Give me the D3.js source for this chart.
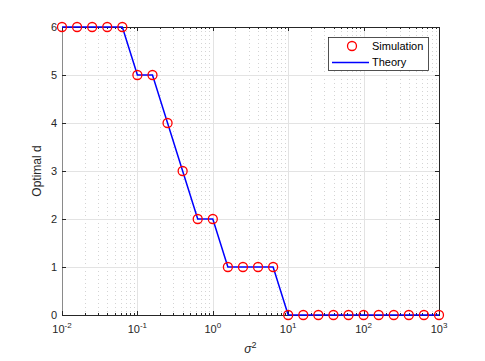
<!DOCTYPE html>
<html>
<head>
<meta charset="utf-8">
<script src="https://cdn.jsdelivr.net/npm/d3@7"></script>
<style>
body { margin: 0; background: #fff; }
text { font-family: "Liberation Sans", Arial, sans-serif; }
</style>
</head>
<body>
<svg id="chart" width="485" height="361"></svg>
<script>
// sigma^2 exponents (log10), step 0.2 decades
var exponents = [-2, -1.8, -1.6, -1.4, -1.2, -1, -0.8, -0.6, -0.4, -0.2, 0, 0.2, 0.4, 0.6, 0.8,
                 1, 1.2, 1.4, 1.6, 1.8, 2, 2.2, 2.4, 2.6, 2.8, 3];
var simulation = [6, 6, 6, 6, 6, 5, 5, 4, 3, 2, 2, 1, 1, 1, 1, 0, 0, 0, 0, 0, 0, 0, 0, 0, 0, 0];
var theory     = [6, 6, 6, 6, 6, 5, 5, 4, 3, 2, 2, 1, 1, 1, 1, 0, 0, 0, 0, 0, 0, 0, 0, 0, 0, 0];
var xTicks = [-2, -1, 0, 1, 2, 3];
var yTicks = [0, 1, 2, 3, 4, 5, 6];

var svg = d3.select("#chart");
var pLeft = 62, pRight = 439, pTop = 27, pBottom = 315;

var x = d3.scaleLog().domain([1e-2, 1e3]).range([pLeft, pRight]);
var y = d3.scaleLinear().domain([0, 6]).range([pBottom, pTop]);

var g = svg.append("g");

// minor grid (dotted)
var minor = [];
for (var e = -2; e < 3; e++) {
  for (var m = 2; m <= 9; m++) minor.push(m * Math.pow(10, e));
}
g.selectAll(".minor").data(minor).enter().append("line")
  .attr("x1", function(d){ return Math.round(x(d)) + 0.5; })
  .attr("x2", function(d){ return Math.round(x(d)) + 0.5; })
  .attr("y1", pTop).attr("y2", pBottom)
  .attr("stroke", "#d4d4d4").attr("stroke-width", 1)
  .attr("stroke-dasharray", "1,3");

// major grid
g.selectAll(".gx").data(xTicks).enter().append("line")
  .attr("x1", function(d){ return Math.round(x(Math.pow(10, d))) + 0.5; })
  .attr("x2", function(d){ return Math.round(x(Math.pow(10, d))) + 0.5; })
  .attr("y1", pTop).attr("y2", pBottom)
  .attr("stroke", "#e3e3e3");
g.selectAll(".gy").data(yTicks).enter().append("line")
  .attr("x1", pLeft).attr("x2", pRight)
  .attr("y1", function(d){ return Math.round(y(d)) + 0.5; })
  .attr("y2", function(d){ return Math.round(y(d)) + 0.5; })
  .attr("stroke", "#e3e3e3");

// axes box
g.append("rect").attr("x", pLeft + 0.5).attr("y", pTop + 0.5)
  .attr("width", pRight - pLeft).attr("height", pBottom - pTop)
  .attr("fill", "none").attr("stroke", "#262626").attr("stroke-width", 1);
g.append("line").attr("x1", pLeft + 0.5).attr("x2", pLeft + 0.5)
  .attr("y1", pTop).attr("y2", pBottom).attr("stroke", "#8a8a8a");

// ticks (inward)
g.selectAll(".ty").data(yTicks).enter().append("line")
  .attr("x1", pLeft).attr("x2", pLeft + 4)
  .attr("y1", function(d){ return Math.round(y(d)) + 0.5; })
  .attr("y2", function(d){ return Math.round(y(d)) + 0.5; })
  .attr("stroke", "#262626");
g.selectAll(".ty2").data(yTicks).enter().append("line")
  .attr("x1", pRight - 4).attr("x2", pRight)
  .attr("y1", function(d){ return Math.round(y(d)) + 0.5; })
  .attr("y2", function(d){ return Math.round(y(d)) + 0.5; })
  .attr("stroke", "#262626");
var allX = minor.concat(xTicks.map(function(d){ return Math.pow(10, d); }));
g.selectAll(".tx").data(allX).enter().append("line")
  .attr("x1", function(d){ return Math.round(x(d)) + 0.5; })
  .attr("x2", function(d){ return Math.round(x(d)) + 0.5; })
  .attr("y1", pBottom).attr("y2", function(d){ return pBottom - (minor.indexOf(d) >= 0 ? 2 : 4); })
  .attr("stroke", "#262626");
g.selectAll(".tx2").data(allX).enter().append("line")
  .attr("x1", function(d){ return Math.round(x(d)) + 0.5; })
  .attr("x2", function(d){ return Math.round(x(d)) + 0.5; })
  .attr("y1", pTop).attr("y2", function(d){ return pTop + (minor.indexOf(d) >= 0 ? 2 : 4); })
  .attr("stroke", "#262626");

// tick labels
g.selectAll(".ly").data(yTicks).enter().append("text")
  .attr("x", pLeft - 5).attr("y", function(d){ return y(d) + 4; })
  .attr("text-anchor", "end").attr("font-size", 11).attr("fill", "#262626")
  .text(function(d){ return d; });
var lx = g.selectAll(".lx").data(xTicks).enter().append("text")
  .attr("x", function(d){ return x(Math.pow(10, d)); }).attr("y", pBottom + 18)
  .attr("text-anchor", "middle").attr("font-size", 11).attr("fill", "#262626");
lx.append("tspan").text("10");
lx.append("tspan").attr("dy", -5).attr("font-size", 8).text(function(d){ return d; });

// axis labels
var xl = g.append("text").attr("x", (pLeft + pRight) / 2).attr("y", 353)
  .attr("text-anchor", "middle").attr("font-size", 12).attr("fill", "#262626");
xl.append("tspan").attr("font-style", "italic").text("σ");
xl.append("tspan").attr("dy", -5).attr("font-size", 9).text("2");
g.append("text").attr("transform", "translate(41," + (pTop + pBottom) / 2 + ") rotate(-90)")
  .attr("text-anchor", "middle").attr("font-size", 12).attr("fill", "#262626")
  .text("Optimal d");

// theory line
var line = d3.line()
  .x(function(d, i){ return x(Math.pow(10, exponents[i])); })
  .y(function(d){ return y(d); });
g.append("path").datum(theory).attr("d", line)
  .attr("fill", "none").attr("stroke", "#0000ff").attr("stroke-width", 1.5);

// simulation markers
g.selectAll(".sim").data(simulation).enter().append("circle")
  .attr("cx", function(d, i){ return x(Math.pow(10, exponents[i])); })
  .attr("cy", function(d){ return y(d); })
  .attr("r", 4.5).attr("fill", "none").attr("stroke", "#ff0000").attr("stroke-width", 1.3);

// legend
var lg = g.append("g");
lg.append("rect").attr("x", 328.5).attr("y", 37.5).attr("width", 100).attr("height", 33)
  .attr("fill", "#fff").attr("stroke", "#262626").attr("stroke-width", 0.8);
lg.append("circle").attr("cx", 352).attr("cy", 46).attr("r", 4.5)
  .attr("fill", "none").attr("stroke", "#ff0000").attr("stroke-width", 1.3);
lg.append("text").attr("x", 372).attr("y", 50).attr("font-size", 11).attr("fill", "#000").text("Simulation");
lg.append("line").attr("x1", 332).attr("x2", 369).attr("y1", 62.5).attr("y2", 62.5)
  .attr("stroke", "#0000ff").attr("stroke-width", 1.5);
lg.append("text").attr("x", 372).attr("y", 66).attr("font-size", 11).attr("fill", "#000").text("Theory");
</script>
</body>
</html>
